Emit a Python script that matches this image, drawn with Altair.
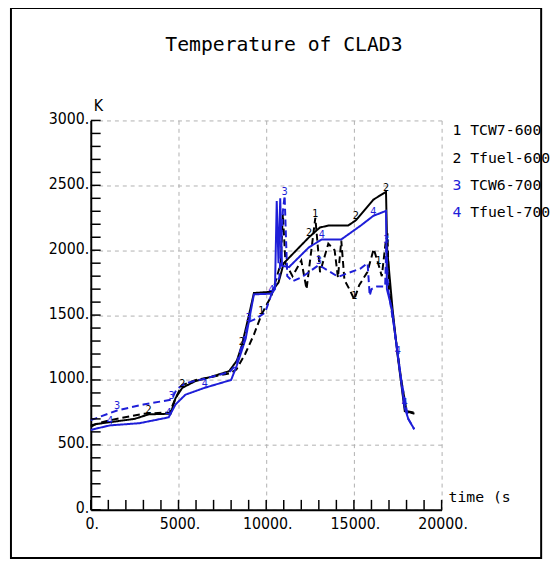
import altair as alt
import pandas as pd

BLUE = "#1e1ed8"
series_names = ["TCW7-600", "Tfuel-600", "TCW6-700", "Tfuel-700"]
series_colors = ["black", "black", BLUE, BLUE]

# 1: TCW7-600 (black dashed)
t1 = [0, 1100, 3000, 4500, 4800, 5200, 6000, 7900, 8300, 8800, 9300, 9720, 10300, 10830, 10950,
      11100, 11500, 12000, 12300, 12800, 13070, 13540, 13900, 14090, 14280, 14460, 14740, 15020,
      15300, 15760, 16130, 16400, 16590, 16800, 16910, 17000, 17300, 17700, 18000, 18400]
v1 = [650, 690, 740, 750, 850, 960, 1000, 1050, 1080, 1200, 1350, 1500, 1650, 1900, 2280,
      1900, 1800, 1920, 1700, 2250, 1830, 2050, 2000, 1790, 2075, 1770, 1700, 1620,
      1730, 1830, 2010, 1890, 1800, 2050, 2130, 1700, 1400, 1000, 760, 750]
lab1 = [11, 19, 27, 31]

# 2: Tfuel-600 (black solid)
t2 = [0, 300, 1100, 2500, 3300, 4550, 4830, 5220, 5940, 7000, 7890, 8330, 8610, 9000, 9300,
      10300, 10700, 11000, 12440, 13060, 13560, 14670, 15110, 16110, 16830, 16900, 17200, 17500,
      17900, 18200, 18450]
v2 = [640, 660, 675, 700, 735, 740, 860, 940, 990, 1030, 1068, 1150, 1265, 1490, 1670,
      1680, 1750, 1900, 2100, 2175, 2190, 2190, 2230, 2390, 2450, 2000, 1550, 1180,
      760, 750, 740]
lab2 = [4, 7, 12, 18, 22, 24]

# 3: TCW6-700 (blue dashed)
t3 = [0, 1500, 3000, 4600, 4900, 5400, 6500, 7900, 8300, 9000, 9400, 9940, 10400, 10750, 10950,
      11050, 11200, 11500, 12060, 13000, 14100, 15390, 15780, 15900, 16000, 16300, 16780, 16850,
      16950, 17300, 17700, 18100, 18440]
v3 = [690, 765, 811, 848, 930, 975, 1010, 1060, 1120, 1447, 1470, 1520, 1700, 1790, 2300,
      2420, 1800, 1760, 1795, 1886, 1795, 1860, 1900, 1650, 1700, 1720, 1720, 2050,
      1700, 1400, 1000, 700, 620]
lab3 = [1, 3, 9, 15, 19, 27]

# 4: Tfuel-700 (blue solid)
t4 = [0, 300, 1100, 2780, 4440, 4830, 5390, 6500, 8000, 8330, 8830, 9110, 9300, 10300, 10500,
      10600, 10700, 10800, 10900, 11300, 12440, 13170, 14280, 15390, 16110, 16830, 16880, 17170,
      17500, 17890, 18100, 18440]
v4 = [615, 625, 650, 667, 712, 811, 886, 940, 1000, 1114, 1318, 1523, 1660, 1665, 1700,
      2380, 1900, 2400, 1880, 1870, 2023, 2083, 2083, 2190, 2265, 2303, 1700, 1545,
      1190, 788, 700, 620]
lab4 = [2, 4, 7, 13, 21, 24, 28, 29]

x_major = [0, 5000, 10000, 15000, 20000]
y_major = [0, 500, 1000, 1500, 2000, 2500, 3000]
x_minor = list(range(0, 20001, 1000))
y_minor = list(range(0, 3001, 100))

rows = []
for k, (name, ts, vs, labs) in enumerate(zip(series_names, [t1, t2, t3, t4], [v1, v2, v3, v4],
                                             [lab1, lab2, lab3, lab4])):
    for j, (a, b) in enumerate(zip(ts, vs)):
        rows.append({"series": name, "t": a, "T": b, "idx": j, "tag": str(k + 1), "lab": j in labs})
df = pd.DataFrame(rows)

W, H = 356, 395
xsc = alt.Scale(domain=[0, 20000], nice=False, zero=False)
ysc = alt.Scale(domain=[0, 3000], nice=False)
color = alt.Color("series:N", scale=alt.Scale(domain=series_names, range=series_colors), legend=None)
dash = alt.StrokeDash("series:N",
                      scale=alt.Scale(domain=series_names, range=[[7, 4], [1, 0], [7, 4], [1, 0]]),
                      legend=None)

LABEL_FONT = "Liberation Sans Narrow, DejaVu Sans Condensed, Liberation Sans"
MONO = "DejaVu Sans Mono"

x_axis = alt.Axis(values=x_major, labelExpr="datum.value + '.'", title=None, grid=True,
                  gridDash=[4, 4], gridColor="#b0b0b0", gridWidth=1, domainColor="black",
                  domainWidth=2, ticks=False, labelFont=LABEL_FONT, labelFontSize=16,
                  labelColor="black", labelPadding=6, labelOffset=1, labelFlush=False)
y_axis = alt.Axis(values=y_major, labelExpr="datum.value + '.'", title=None, grid=True,
                  gridDash=[4, 4], gridColor="#b0b0b0", gridWidth=1, domainColor="black",
                  domainWidth=2, ticks=False, labelFont=LABEL_FONT, labelFontSize=16,
                  labelColor="black", labelPadding=2, labelOffset=-2, labelFlush=False)

lines = alt.Chart(df).mark_line(strokeWidth=2).encode(
    x=alt.X("t:Q", scale=xsc, axis=x_axis),
    y=alt.Y("T:Q", scale=ysc, axis=y_axis),
    color=color, strokeDash=dash, detail="series:N", order="idx:Q")

curve_labels = alt.Chart(df).transform_filter("datum.lab").mark_text(
    font=LABEL_FONT, fontSize=11, dy=-4).encode(
    x=alt.X("t:Q", scale=xsc, title=None),
    y=alt.Y("T:Q", scale=ysc, title=None),
    text="tag:N", color=color)

yt = alt.Chart(pd.DataFrame({"v": y_minor})).mark_rule(color="black", strokeWidth=1.5).encode(
    y=alt.Y("v:Q", scale=ysc, title=None), x=alt.value(0), x2=alt.value(10))
xt = alt.Chart(pd.DataFrame({"v": x_minor})).mark_rule(color="black", strokeWidth=1.5).encode(
    x=alt.X("v:Q", scale=xsc, title=None), y=alt.value(H), y2=alt.value(H - 10))

one = pd.DataFrame({"a": [0]})
frame = alt.Chart(one).mark_rect(filled=False, stroke="black", strokeWidth=2).encode(
    x=alt.value(-81), x2=alt.value(457), y=alt.value(-114), y2=alt.value(444))
frame2 = alt.Chart(one).mark_rule(color="black", strokeWidth=2).encode(
    x=alt.value(-89), y=alt.value(-118), y2=alt.value(449))

title = alt.Chart(one).mark_text(font=MONO, fontSize=20, align="center", baseline="middle",
                                 color="black").encode(
    x=alt.value(196), y=alt.value(-76), text=alt.value("Temperature of CLAD3"))
k_lab = alt.Chart(one).mark_text(font=LABEL_FONT, fontSize=16, align="left", baseline="middle",
                                 color="black").encode(
    x=alt.value(3), y=alt.value(-15), text=alt.value("K"))
t_lab = alt.Chart(one).mark_text(font=MONO, fontSize=15, align="left", baseline="middle",
                                 color="black").encode(
    x=alt.value(363), y=alt.value(382), text=alt.value("time (s"))

legend_layers = []
for i, (name, col) in enumerate(zip(series_names, series_colors)):
    yy = 10 + 27.7 * i
    legend_layers.append(alt.Chart(one).mark_text(font=MONO, fontSize=15, align="left",
                                                  baseline="middle", color=col).encode(
        x=alt.value(367), y=alt.value(yy), text=alt.value(str(i + 1))))
    legend_layers.append(alt.Chart(one).mark_text(font=MONO, fontSize=15, align="left",
                                                  baseline="middle", color="black").encode(
        x=alt.value(385), y=alt.value(yy), text=alt.value(name)))

chart = alt.layer(lines, curve_labels, yt, xt, frame, frame2, title, k_lab, t_lab,
                  *legend_layers).properties(
    width=W, height=H,
    autosize=alt.AutoSizeParams(type="none"),
    padding={"left": 84, "top": 110, "right": 112, "bottom": 54},
).configure_view(stroke=None)

chart.save("out.html", embed_options={"renderer": "svg", "actions": False})
